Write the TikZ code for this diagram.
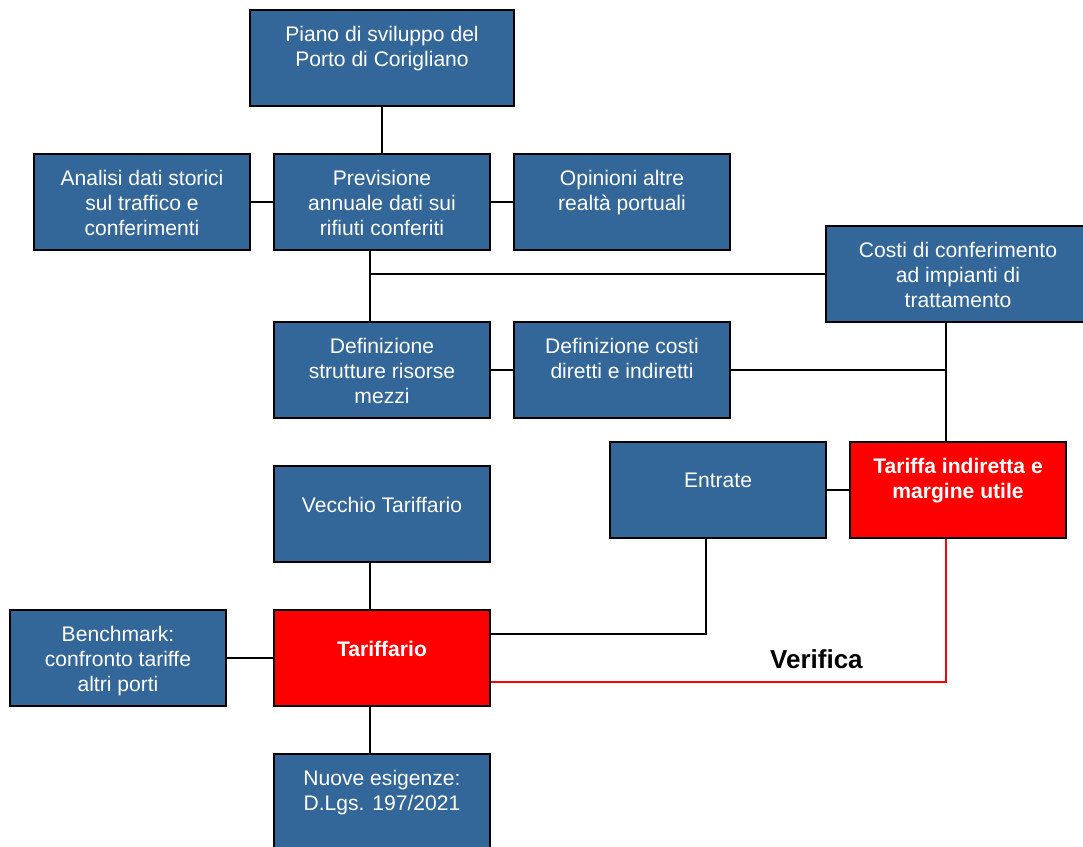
\documentclass[tikz,border=0pt]{standalone}
\usepackage{fontspec}
\setmainfont{Liberation Sans}
\definecolor{blu}{RGB}{52,103,153}
\definecolor{rosso}{RGB}{255,0,0}
\tikzset{
	blk/.style={draw=black, line width=1.2pt, fill=blu, minimum width=5.4cm, minimum height=2.4cm, inner sep=0pt},
	wide/.style={blk, minimum width=6.6cm},
	hot/.style={blk, fill=rosso},
	txt/.style={anchor=north, inner sep=0pt, yshift=-0.425cm, text=white, align=center, font=\fontsize{15}{17.8}\selectfont},
	txtone/.style={txt, yshift=-0.375cm},
	link/.style={line width=1pt},
}
\begin{document}
\begin{tikzpicture}[x=0.6cm, y=-0.6cm]
			\useasboundingbox (-0.4167,-0.4167) rectangle (44.7083,34.875);
			\clip (-0.4167,-0.4167) rectangle (44.7083,34.875);
			\node[wide] (piano) at (15.5,2) {};
			\node[blk] (analisi) at (5.5,8) {};
			\node[blk] (previsione) at (15.5,8) {};
			\node[blk] (opinioni) at (25.5,8) {};
			\node[wide] (costi) at (39.5,11) {};
			\node[blk] (strutture) at (15.5,15) {};
			\node[blk] (costidir) at (25.5,15) {};
			\node[blk] (entrate) at (29.5,20) {};
			\node[hot] (tariffaind) at (39.5,20) {};
			\node[blk] (vecchio) at (15.5,21) {};
			\node[blk] (benchmark) at (4.5,27) {};
			\node[hot] (tariffario) at (15.5,27) {};
			\node[blk] (nuove) at (15.5,33) {};
			\draw[link] (piano) -- (previsione);
			\draw[link] (analisi) -- (previsione);
			\draw[link] (previsione) -- (opinioni);
			\draw[link] ([xshift=-0.3cm]previsione.south) -- ([xshift=-0.3cm]strutture.north);
			\draw[link] (costi.west) -| ([xshift=-0.3cm]previsione.south);
			\draw[link] (strutture) -- (costidir);
			\draw[link] ([xshift=-0.3cm]costi.south) -- ([xshift=-0.3cm]tariffaind.north);
			\draw[link] (costidir.east) -| ([xshift=-0.3cm]costi.south);
			\draw[link] (entrate) -- (tariffaind);
			\draw[link] ([xshift=-0.3cm]vecchio.south) -- ([xshift=-0.3cm]tariffario.north);
			\draw[link] (benchmark) -- (tariffario);
			\draw[link] ([xshift=-0.3cm]tariffario.south) -- ([xshift=-0.3cm]nuove.north);
			\draw[link] ([yshift=0.6cm]tariffario.east) -| ([xshift=-0.3cm]entrate.south);
			\draw[link, rosso] ([yshift=-0.6cm]tariffario.east) -| ([xshift=-0.3cm]tariffaind.south);
			\node[txt] (piano-t) at (piano.north) {Piano di sviluppo del\\Porto di Corigliano};
			\node[txt] (analisi-t) at (analisi.north) {Analisi dati storici\\sul traffico e\\conferimenti};
			\node[txt] (previsione-t) at (previsione.north) {Previsione\\annuale dati sui\\rifiuti conferiti};
			\node[txt] (opinioni-t) at (opinioni.north) {Opinioni altre\\realtà portuali};
			\node[txt] (costi-t) at (costi.north) {Costi di conferimento\\ad impianti di\\trattamento};
			\node[txt] (strutture-t) at (strutture.north) {Definizione\\strutture risorse\\mezzi};
			\node[txt] (costidir-t) at (costidir.north) {Definizione costi\\diretti e indiretti};
			\node[txtone] (entrate-t) at (entrate.north) {Entrate};
			\node[txt, font=\fontsize{15}{17.8}\selectfont\bfseries] (tariffaind-t) at (tariffaind.north) {Tariffa indiretta e\\margine utile};
			\node[txtone] (vecchio-t) at (vecchio.north) {Vecchio Tariffario};
			\node[txt] (benchmark-t) at (benchmark.north) {Benchmark:\\confronto tariffe\\altri porti};
			\node[txtone, font=\fontsize{15}{17.8}\selectfont\bfseries] (tariffario-t) at (tariffario.north) {Tariffario};
			\node[txt] (nuove-t) at (nuove.north) {Nuove esigenze:\\D.Lgs. 197/2021};
			\node[font=\fontsize{18.5}{22}\selectfont\bfseries] (verifica) at (33.6,27.04) {Verifica};
\end{tikzpicture}
\end{document}
